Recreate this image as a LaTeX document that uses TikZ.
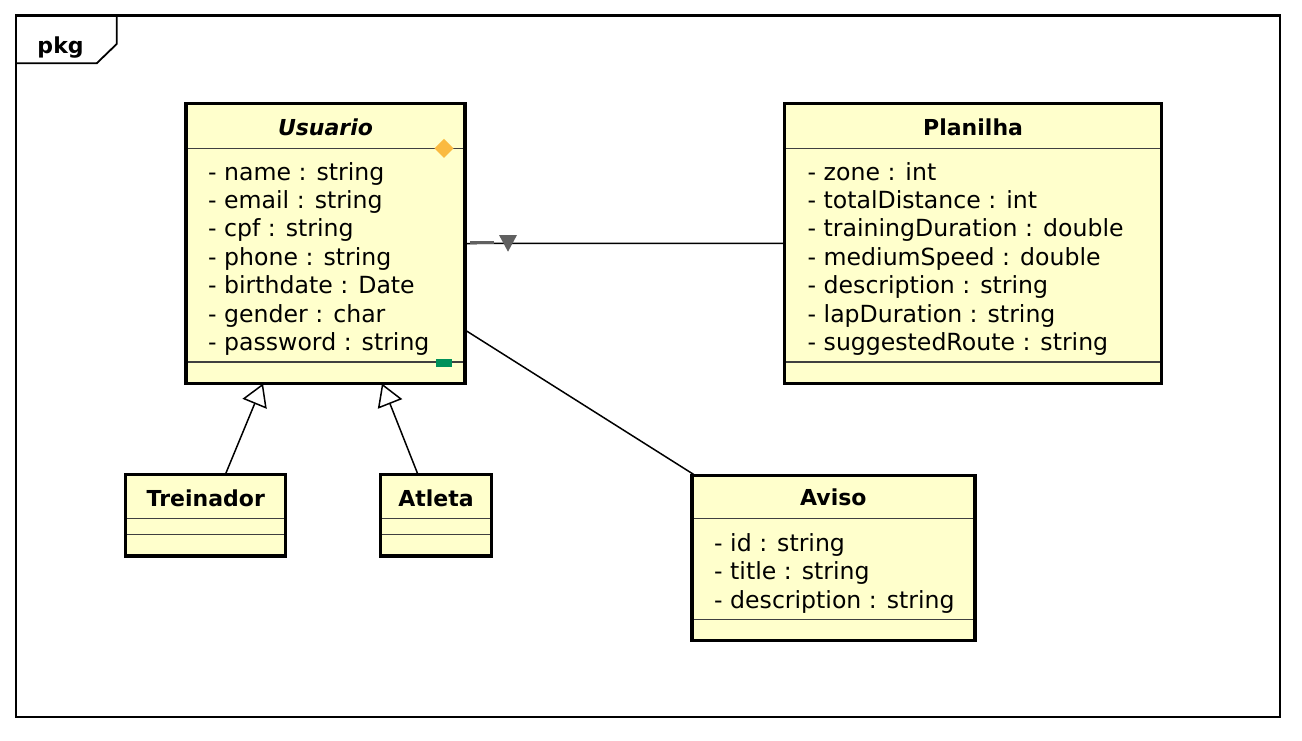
\documentclass[tikz,border=0pt]{standalone}
\usepackage{fontspec}
\setmainfont{DejaVu Sans}
\usetikzlibrary{arrows.meta,calc}
\definecolor{classfill}{RGB}{255,255,204}
\definecolor{navgray}{RGB}{96,96,96}
\definecolor{diamondorange}{RGB}{250,186,64}
\definecolor{markgreen}{RGB}{0,145,90}
\newcommand{\attrfont}{\fontsize{23.6}{28}\selectfont}
\newcommand{\titlefont}{\fontsize{22}{26}\selectfont\bfseries}
\tikzset{
  classbox/.style={draw, line width=3.5pt, fill=classfill, outer sep=0pt, inner sep=0pt},
  sepline/.style={line width=1.6pt, draw=black!75, shorten <=1.7pt, shorten >=1.7pt},
  attr/.style={anchor=base west, inner sep=0pt, font=\attrfont},
  ctitle/.style={anchor=base, inner sep=0pt, font=\titlefont},
  assoc/.style={line width=1.5pt, draw=black},
  gen/.style={line width=1.5pt, draw=black, -{Triangle[open, length=22pt, width=26pt, fill=white]}}
}
\begin{document}
\begin{tikzpicture}[x=1pt,y=-1pt]
\useasboundingbox (0,0) rectangle (1302,740);
% package frame
\node[draw, line width=2.2pt, minimum width=1263.7pt, minimum height=701.8pt, outer sep=0pt, inner sep=0pt] (frame) at (648.2,366.4) {};
\draw[line width=1.8pt] (116.7,15.5) -- (116.7,44) -- (96.7,63.3) -- (16.3,63.3);
\node[anchor=base west, inner sep=0pt, font=\titlefont] (pkg) at (37.3,53.3) {pkg};

% Usuario
\node[classbox, minimum width=279pt, minimum height=280pt] (usuario) at (325.5,243.5) {};
\draw[sepline] (usuario.west |- 0,148.3) -- (usuario.east |- 0,148.3);
\draw[sepline] (usuario.west |- 0,361.7) -- (usuario.east |- 0,361.7);
\node[ctitle, font=\titlefont\itshape] (usuariot) at (325.5,135.7) {Usuario};
\node[attr] (u1) at (208,180) {- name : string};
\node[attr] (u2) at (208,208.4) {- email : string};
\node[attr] (u3) at (208,236.8) {- cpf : string};
\node[attr] (u4) at (208,265.2) {- phone : string};
\node[attr] (u5) at (208,293.6) {- birthdate : Date};
\node[attr] (u6) at (208,322) {- gender : char};
\node[attr] (u7) at (208,350.4) {- password : string};
\fill[diamondorange] (444,138.8) -- (453.5,148.3) -- (444,157.8) -- (434.5,148.3) -- cycle;
\fill[markgreen] (436,359) rectangle (451.7,366.7);

% Planilha
\node[classbox, minimum width=376.8pt, minimum height=280pt] (planilha) at (973.1,243.3) {};
\draw[sepline] (planilha.west |- 0,148.3) -- (planilha.east |- 0,148.3);
\draw[sepline] (planilha.west |- 0,361.7) -- (planilha.east |- 0,361.7);
\node[ctitle] (planilhat) at (973.1,135.5) {Planilha};
\node[attr] (p1) at (807.5,180) {- zone : int};
\node[attr] (p2) at (807.5,208.4) {- totalDistance : int};
\node[attr] (p3) at (807.5,236.8) {- trainingDuration : double};
\node[attr] (p4) at (807.5,265.2) {- mediumSpeed : double};
\node[attr] (p5) at (807.5,293.6) {- description : string};
\node[attr] (p6) at (807.5,322) {- lapDuration : string};
\node[attr] (p7) at (807.5,350.4) {- suggestedRoute : string};

% Treinador
\node[classbox, minimum width=160pt, minimum height=81.3pt] (treinador) at (205.3,515.3) {};
\draw[sepline] (treinador.west |- 0,518.3) -- (treinador.east |- 0,518.3);
\draw[sepline] (treinador.west |- 0,534.3) -- (treinador.east |- 0,534.3);
\node[ctitle] (treinadort) at (205.8,506.7) {Treinador};

% Atleta
\node[classbox, minimum width=111.4pt, minimum height=81.3pt] (atleta) at (436,515.3) {};
\draw[sepline] (atleta.west |- 0,518.3) -- (atleta.east |- 0,518.3);
\draw[sepline] (atleta.west |- 0,534.3) -- (atleta.east |- 0,534.3);
\node[ctitle] (atletat) at (436,506.7) {Atleta};

% Aviso
\node[classbox, minimum width=282.7pt, minimum height=165.2pt] (aviso) at (833.4,557.9) {};
\draw[sepline] (aviso.west |- 0,518.3) -- (aviso.east |- 0,518.3);
\draw[sepline] (aviso.west |- 0,619.3) -- (aviso.east |- 0,619.3);
\node[ctitle] (avisot) at (833.4,505.5) {Aviso};
\node[attr] (a1) at (714,551.5) {- id : string};
\node[attr] (a2) at (714,579.9) {- title : string};
\node[attr] (a3) at (714,608.3) {- description : string};

% connectors
\draw[assoc] (usuario.east) -- (planilha.west);
\fill[navgray] (470,241.4) rectangle (494,244.4);
\fill[navgray] (499,235) -- (517,235) -- (508,251.7) -- cycle;
\draw[assoc] ([yshift=-86.5pt]usuario.east) -- ([xshift=3pt]aviso.north west);
\draw[gen] ([xshift=20pt]treinador.north) -- ([xshift=-62.5pt]usuario.south);
\draw[gen] ([xshift=-18pt]atleta.north) -- ([xshift=56.5pt]usuario.south);
\end{tikzpicture}
\end{document}
